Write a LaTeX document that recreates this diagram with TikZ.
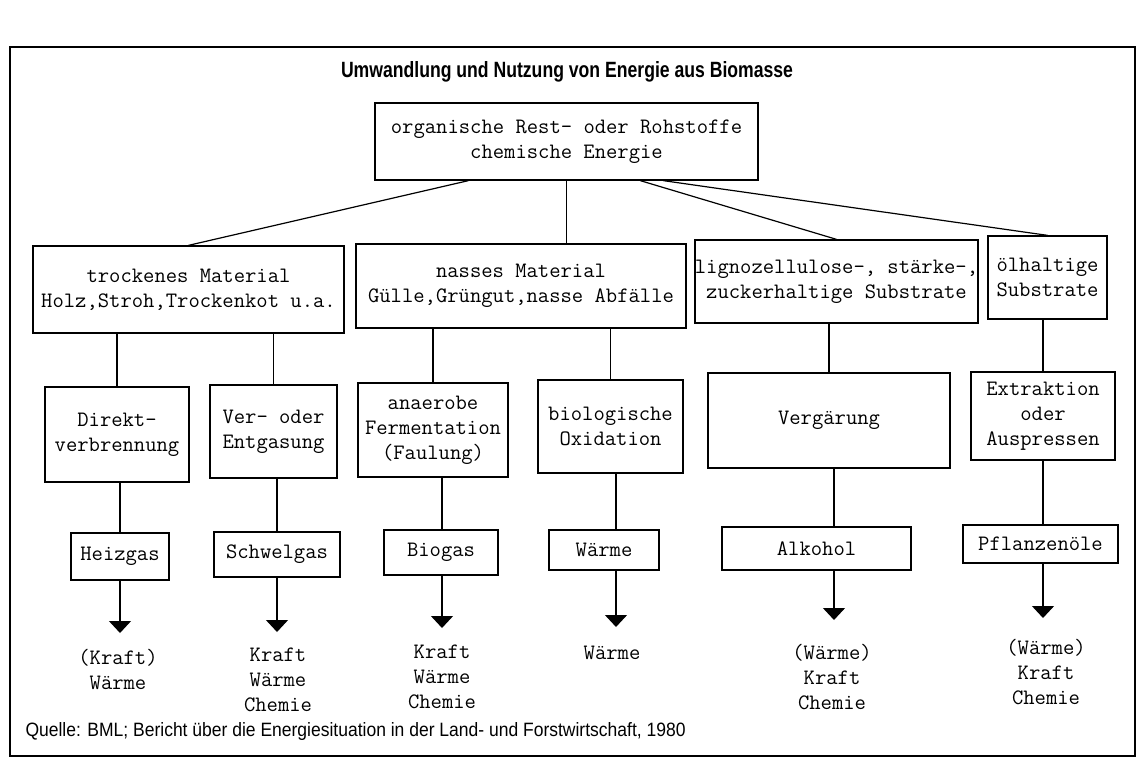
\documentclass[tikz,border=0pt]{standalone}
\usepackage{graphicx}
\usepackage{fontspec}
\newfontfamily\headfont{Liberation Sans}
\usetikzlibrary{arrows.meta}

\tikzset{
  box/.style={draw, line width=1.3pt, fill=white, align=center, inner sep=0pt,
    font=\ttfamily\fontsize{22}{25}\selectfont},
  uselabel/.style={align=center, inner sep=0pt, font=\ttfamily\fontsize{22}{25}\selectfont},
  link/.style={line width=1.2pt},
  flow/.style={line width=1.2pt, -{Triangle[width=22pt,length=12pt]}},
}

\begin{document}
\begin{tikzpicture}[x=1pt,y=-1pt]
  \useasboundingbox (0,0) rectangle (1143,774);
  % frame and heading
  \draw[line width=1.6pt] (10,47) rectangle (1135,756);
  \node (title) at (567,72)
    {\resizebox{452pt}{16pt}{\headfont\bfseries Umwandlung und Nutzung von Energie aus Biomasse}};

  % source
  \node[box, minimum width=383, minimum height=77] (src) at (566.5,141.5) {organische Rest- oder Rohstoffe\\chemische Energie};

  % raw materials
  \node[box, minimum width=311, minimum height=87] (dry) at (188.5,289.5) {trockenes Material\\Holz,Stroh,Trockenkot u.a.};
  \node[box, minimum width=330, minimum height=84] (wet) at (521,286) {nasses Material\\Gülle,Grüngut,nasse Abfälle};
  \node[box, minimum width=281, minimum height=83] (lig) at (836.5,281.5) {lignozellulose-, stärke-,\\zuckerhaltige Substrate};
  \node[box, minimum width=119, minimum height=83] (oil) at (1047.5,277.5) {ölhaltige\\Substrate};

  % processes
  \node[box, minimum width=144, minimum height=95] (burn) at (117,434.5) {Direkt-\\verbrennung};
  \node[box, minimum width=127, minimum height=93] (gasif) at (273.5,431.5) {Ver- oder\\Entgasung};
  \node[box, minimum width=150, minimum height=94] (ferm) at (433,430) {anaerobe\\Fermentation\\(Faulung)};
  \node[box, minimum width=145, minimum height=93] (oxid) at (610.5,426.5) {biologische\\Oxidation};
  \node[box, minimum width=242, minimum height=95] (gaer) at (829,420.5) {Vergärung};
  \node[box, minimum width=144, minimum height=88] (press) at (1043,416) {Extraktion\\oder\\Auspressen};

  % products
  \node[box, minimum width=98, minimum height=47] (heiz) at (120,556.5) {Heizgas};
  \node[box, minimum width=126, minimum height=45] (schwel) at (277,554.5) {Schwelgas};
  \node[box, minimum width=114, minimum height=45] (biogas) at (441,552.5) {Biogas};
  \node[box, minimum width=110, minimum height=40] (heat) at (604,550) {Wärme};
  \node[box, minimum width=189, minimum height=43] (alc) at (816.5,548.5) {Alkohol};
  \node[box, minimum width=155, minimum height=38] (vegoil) at (1040.5,544) {Pflanzenöle};

  % arrow tips
  \coordinate (t1) at (120,633);
  \coordinate (t2) at (277,632);
  \coordinate (t3) at (442,628);
  \coordinate (t4) at (616,627);
  \coordinate (t5) at (834,620);
  \coordinate (t6) at (1043,618);

  % uses
  \node[uselabel] (o1) at (118,669.5) {(Kraft)\\Wärme};
  \node[uselabel] (o2) at (278,680) {Kraft\\Wärme\\Chemie};
  \node[uselabel] (o3) at (442,677) {Kraft\\Wärme\\Chemie};
  \node[uselabel] (o4) at (612,653) {Wärme};
  \node[uselabel] (o5) at (832,677) {(Wärme)\\Kraft\\Chemie};
  \node[uselabel] (o6) at (1046,672) {(Wärme)\\Kraft\\Chemie};

  % source to materials
  \draw[link] ([xshift=94pt]src.south west) -- (dry.north);
  \draw[link] (src.south) -- (src.south |- wet.north);
  \draw[link] ([xshift=266pt]src.south west) -- (lig.north);
  \draw[link] ([xshift=289pt]src.south west) -- (oil.north);

  % materials to processes
  \draw[link] (dry.south -| burn.north) -- (burn.north);
  \draw[link] (dry.south -| gasif.north) -- (gasif.north);
  \draw[link] (wet.south -| ferm.north) -- (ferm.north);
  \draw[link] (wet.south -| oxid.north) -- (oxid.north);
  \draw[link] (lig.south -| gaer.north) -- (gaer.north);
  \draw[link] (oil.south -| press.north) -- (press.north);

  % processes to products to uses
  \draw[link] (burn.south -| t1) -- (heiz.north -| t1);
  \draw[link] (gasif.south -| t2) -- (schwel.north -| t2);
  \draw[link] (ferm.south -| t3) -- (biogas.north -| t3);
  \draw[link] (oxid.south -| t4) -- (heat.north -| t4);
  \draw[link] (gaer.south -| t5) -- (alc.north -| t5);
  \draw[link] (press.south -| t6) -- (vegoil.north -| t6);
  \draw[flow] (heiz.south -| t1) -- (t1);
  \draw[flow] (schwel.south -| t2) -- (t2);
  \draw[flow] (biogas.south -| t3) -- (t3);
  \draw[flow] (heat.south -| t4) -- (t4);
  \draw[flow] (alc.south -| t5) -- (t5);
  \draw[flow] (vegoil.south -| t6) -- (t6);

  % source note
  \node[anchor=west] (note) at (22,731)
    {\resizebox{660pt}{14pt}{\headfont Quelle: BML; Bericht über die Energiesituation in der Land- und Forstwirtschaft, 1980}};
\end{tikzpicture}
\end{document}
